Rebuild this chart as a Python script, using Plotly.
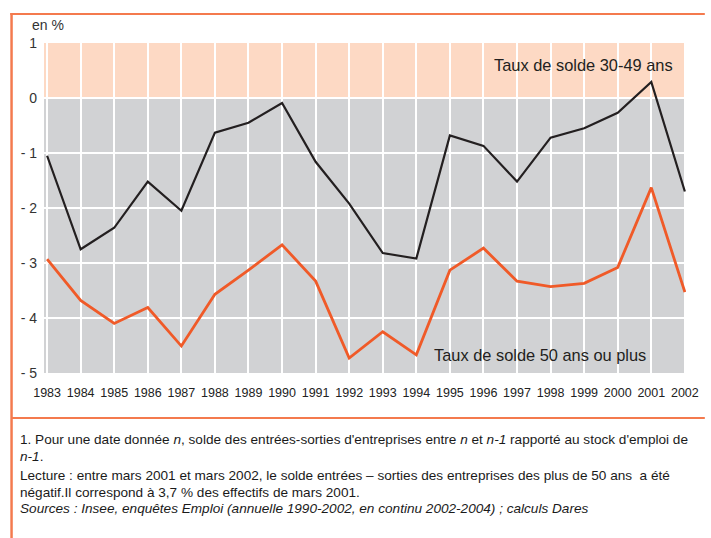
import plotly.graph_objects as go

years = list(range(1983, 2003))
taux_30_49 = [-1.05, -2.75, -2.36, -1.52, -2.05, -0.63, -0.45, -0.09, -1.16, -1.92,
              -2.82, -2.92, -0.68, -0.87, -1.52, -0.72, -0.55, -0.27, 0.29, -1.70]
taux_50_plus = [-2.93, -3.68, -4.10, -3.81, -4.51, -3.57, -3.13, -2.67, -3.33, -4.73,
                -4.25, -4.67, -3.13, -2.73, -3.33, -3.43, -3.37, -3.08, -1.63, -3.53]
y_ticks = [1, 0, -1, -2, -3, -4, -5]
y_ticktext = ["1", "0", "- 1", "- 2", "- 3", "- 4", "- 5"]

W, H = 711, 538
L, R, T, B = 44, 692, 43, 373

def px(x):
    return (x - L) / (R - L)

def py(y):
    return (B - y) / (B - T)

ORANGE = "#F05A28"
BORDER = "#F47A4E"
FONT = "Liberation Sans, Arial, sans-serif"

fig = go.Figure()
fig.add_trace(go.Scatter(x=years, y=taux_30_49, mode="lines",
                         line=dict(color="#231F20", width=2.2), showlegend=False))
fig.add_trace(go.Scatter(x=years, y=taux_50_plus, mode="lines",
                         line=dict(color=ORANGE, width=2.8), showlegend=False))

shapes = [
    dict(type="rect", xref="paper", yref="y", x0=0, x1=1, y0=0, y1=1,
         fillcolor="#FDD9C4", line=dict(width=0), layer="below"),
    dict(type="rect", xref="paper", yref="y", x0=0, x1=1, y0=-5, y1=0,
         fillcolor="#D1D2D4", line=dict(width=0), layer="below"),
    dict(type="line", xref="paper", yref="y", x0=0, x1=1, y0=0, y1=0,
         line=dict(color="#231F20", width=1.6), layer="between"),
    # frame
    dict(type="line", xref="paper", yref="paper", x0=px(10), x1=px(711), y0=py(14), y1=py(14),
         line=dict(color=BORDER, width=2), layer="above"),
    dict(type="rect", xref="paper", yref="paper", x0=px(10), x1=px(12.5), y0=py(13), y1=py(538),
         line=dict(width=0), fillcolor=BORDER, layer="above"),
    dict(type="line", xref="paper", yref="paper", x0=px(11), x1=px(711), y0=py(418), y1=py(418),
         line=dict(color=BORDER, width=2), layer="above"),
]

annotations = [
    dict(text="en %", xref="paper", yref="paper", x=px(30), y=py(25), xanchor="left", yanchor="middle",
         showarrow=False, font=dict(family=FONT, size=14, color="#333")),
    dict(text="Taux de solde 30-49 ans", xref="paper", yref="paper", x=px(681), y=py(65),
         xanchor="right", yanchor="middle", showarrow=False,
         font=dict(family=FONT, size=16.4, color="#231F20")),
    dict(text="Taux de solde 50 ans ou plus", xref="paper", yref="paper", x=px(436), y=py(355),
         xanchor="left", yanchor="middle", showarrow=False,
         font=dict(family=FONT, size=16.4, color="#231F20")),
]

foot = [
    "1. Pour une date donnée <i>n</i>, solde des entrées-sorties d'entreprises entre <i>n</i> et <i>n-1</i> rapporté au stock d'emploi de",
    "<i>n-1</i>.",
    "Lecture : entre mars 2001 et mars 2002, le solde entrées – sorties des entreprises des plus de 50 ans  a été",
    "négatif.Il correspond à 3,7 % des effectifs de mars 2001.",
    "<i>Sources : Insee, enquêtes Emploi (annuelle 1990-2002, en continu 2002-2004) ; calculs Dares</i>",
]
foot_y = [439, 457, 475, 492, 508]
for t, yy in zip(foot, foot_y):
    annotations.append(dict(text=t, xref="paper", yref="paper", x=px(18), y=py(yy),
                            xanchor="left", yanchor="middle", showarrow=False,
                            font=dict(family=FONT, size=13.6, color="#1a1a1a")))

fig.update_layout(
    width=W, height=H,
    margin=dict(l=L, r=W - R, t=T, b=H - B, pad=0),
    paper_bgcolor="white", plot_bgcolor="#D1D2D4",
    shapes=shapes, annotations=annotations,
    xaxis=dict(range=[1982.908, 2002.034], tickmode="array", tickvals=years,
               ticktext=[str(y) for y in years], showgrid=True, gridcolor="white", gridwidth=2,
               zeroline=False, showline=False, ticks="", ticklabelstandoff=10,
               tickfont=dict(family=FONT, size=12.5, color="#222")),
    yaxis=dict(range=[-5, 1], tickmode="array", tickvals=y_ticks, ticktext=y_ticktext,
               showgrid=True, gridcolor="white", gridwidth=2, zeroline=False, showline=False,
               ticks="", ticklabelstandoff=6,
               tickfont=dict(family=FONT, size=14, color="#333")),
)

fig.write_html("out.html", config={"displayModeBar": False},
               post_script="document.body.style.margin='0';")
